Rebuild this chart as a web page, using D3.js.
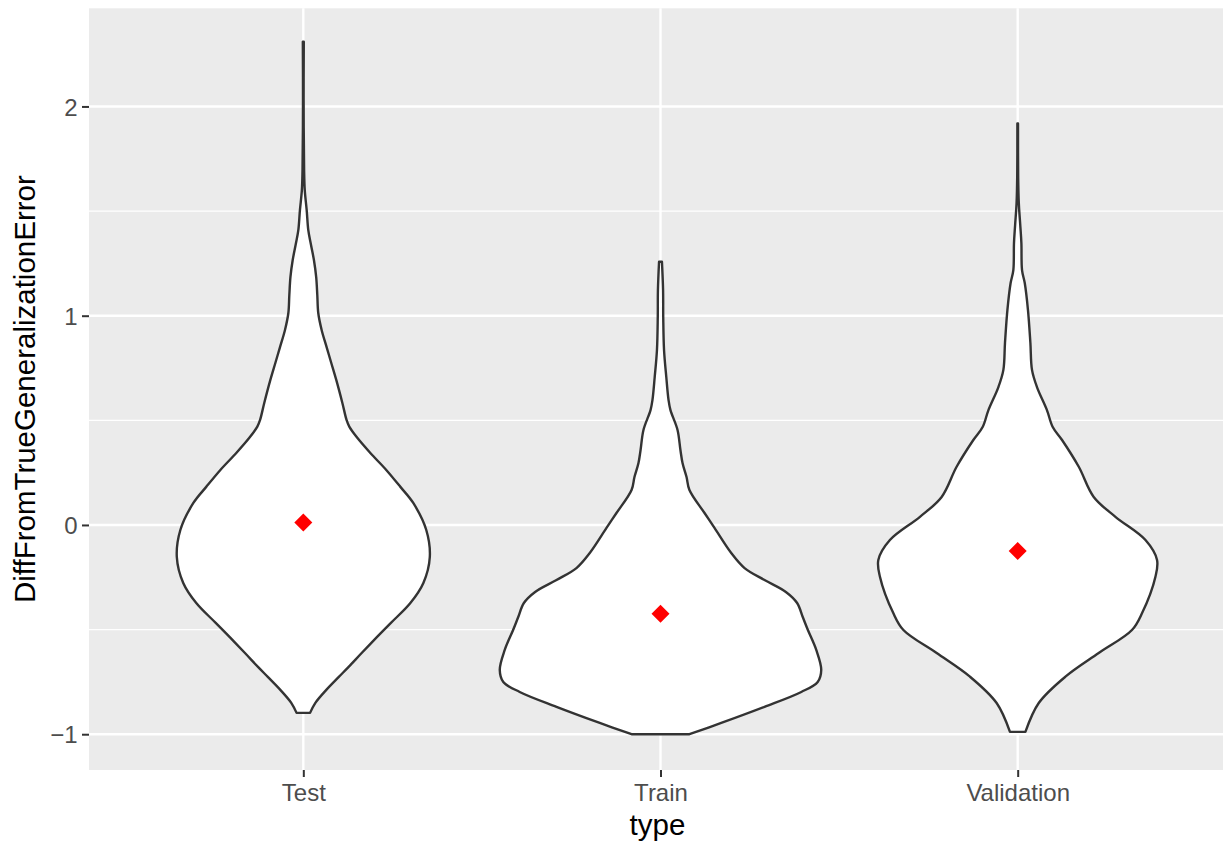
<!DOCTYPE html>
<html>
<head>
<meta charset="utf-8">
<script src="https://cdn.jsdelivr.net/npm/d3@7"></script>
<style>
  html, body { margin: 0; padding: 0; background: #ffffff; }
  svg { display: block; }
  text { font-family: "Liberation Sans", Arial, Helvetica, sans-serif; }
</style>
</head>
<body>
<svg id="chart" width="1223" height="843"></svg>
<script>
// ---------------- data ----------------
const categories = ["Test", "Train", "Validation"];
const yTicks = [-1, 0, 1, 2];
const yMinorTicks = [-0.5, 0.5, 1.5];
const meanValues = [0.012, -0.424, -0.124];
const xTitle = "type";
const yTitle = "DiffFromTrueGeneralizationError";

// violin outlines: value (y) and relative density (1 = widest violin)
const testValues = [2.309, 2.03, 1.696, 1.60, 1.505, 1.409, 1.338, 1.266, 1.185, 1.099, 1.013, 0.932, 0.850, 0.774, 0.693, 0.583, 0.502, 0.470, 0.420, 0.344, 0.263, 0.182, 0.105, -0.024, -0.153, -0.277, -0.373, -0.468, -0.540, -0.612, -0.678, -0.726, -0.788, -0.850, -0.898];
const testDensity = [0.003, 0.002, 0.005, 0.009, 0.021, 0.031, 0.048, 0.066, 0.080, 0.087, 0.093, 0.114, 0.145, 0.174, 0.205, 0.243, 0.269, 0.286, 0.332, 0.417, 0.516, 0.604, 0.684, 0.765, 0.787, 0.747, 0.666, 0.545, 0.453, 0.363, 0.282, 0.221, 0.143, 0.075, 0.042];

const trainValues = [1.258, 1.123, 0.994, 0.836, 0.707, 0.597, 0.549, 0.454, 0.358, 0.296, 0.229, 0.167, 0.057, -0.014, -0.134, -0.206, -0.263, -0.320, -0.373, -0.440, -0.502, -0.597, -0.693, -0.750, -0.798, -0.869, -0.946, -1.0];
const trainDensity = [0.009, 0.016, 0.017, 0.022, 0.036, 0.050, 0.062, 0.106, 0.124, 0.137, 0.162, 0.180, 0.274, 0.336, 0.440, 0.523, 0.647, 0.780, 0.850, 0.885, 0.917, 0.969, 1.000, 0.978, 0.876, 0.647, 0.378, 0.180];

const validationValues = [1.919, 1.663, 1.538, 1.433, 1.347, 1.218, 1.156, 1.027, 0.870, 0.741, 0.659, 0.549, 0.468, 0.406, 0.278, 0.134, 0.039, -0.072, -0.167, -0.247, -0.421, -0.502, -0.612, -0.725, -0.851, -0.989];
const validationDensity = [0.002, 0.003, 0.007, 0.016, 0.023, 0.027, 0.044, 0.064, 0.079, 0.089, 0.120, 0.182, 0.218, 0.276, 0.380, 0.473, 0.608, 0.795, 0.867, 0.857, 0.774, 0.711, 0.504, 0.297, 0.131, 0.048];

const violinValues = [testValues, trainValues, validationValues];
const violinDensity = [testDensity, trainDensity, validationDensity];

// ---------------- layout ----------------
const panel = { left: 89, right: 1232, top: 8.3, bottom: 770 };

const svg = d3.select("#chart");

const x = d3.scalePoint()
  .domain(categories)
  .range([panel.left, panel.right])
  .padding(0.6);

const y = d3.scaleLinear()
  .domain([-1.171, 2.469])
  .range([panel.bottom, panel.top]);

const step = x.step();
const halfW = d3.scaleLinear().domain([0, 1]).range([0, 0.45 * step]);

// panel background
svg.append("rect")
  .attr("x", panel.left).attr("y", panel.top)
  .attr("width", panel.right - panel.left)
  .attr("height", panel.bottom - panel.top)
  .attr("fill", "#EBEBEB");

// minor gridlines
svg.append("g").selectAll("line")
  .data(yMinorTicks).join("line")
  .attr("x1", panel.left).attr("x2", panel.right)
  .attr("y1", d => y(d)).attr("y2", d => y(d))
  .attr("stroke", "#ffffff").attr("stroke-width", 1.2);

// major gridlines
svg.append("g").selectAll("line")
  .data(yTicks).join("line")
  .attr("x1", panel.left).attr("x2", panel.right)
  .attr("y1", d => y(d)).attr("y2", d => y(d))
  .attr("stroke", "#ffffff").attr("stroke-width", 2.4);

svg.append("g").selectAll("line")
  .data(categories).join("line")
  .attr("x1", d => x(d)).attr("x2", d => x(d))
  .attr("y1", panel.top).attr("y2", panel.bottom)
  .attr("stroke", "#ffffff").attr("stroke-width", 2.4);

// violins
const area = d3.area()
  .curve(d3.curveCatmullRom.alpha(0.5))
  .y(d => y(d.v));

categories.forEach((cat, i) => {
  const cx = x(cat);
  const pts = violinValues[i].map((v, j) => ({ v, d: violinDensity[i][j] }));
  svg.append("path")
    .datum(pts)
    .attr("d", area.x0(d => cx - halfW(d.d)).x1(d => cx + halfW(d.d)))
    .attr("fill", "#ffffff")
    .attr("stroke", "#333333")
    .attr("stroke-width", 2.4)
    .attr("stroke-linejoin", "round");
});

// mean markers (filled diamonds)
const diamond = d3.symbol().type(d3.symbolSquare).size(162);
svg.append("g").selectAll("path")
  .data(categories).join("path")
  .attr("d", diamond)
  .attr("transform", (d, i) => `translate(${x(d)},${y(meanValues[i])}) rotate(45)`)
  .attr("fill", "#FF0000");

// axes
const yAxis = d3.axisLeft(y).tickValues(yTicks).tickSize(7).tickPadding(4.5)
  .tickFormat(d => d < 0 ? "\u2212" + Math.abs(d) : String(d));
const gy = svg.append("g").attr("transform", `translate(${panel.left},0)`).call(yAxis);
gy.select(".domain").remove();
gy.selectAll(".tick line").attr("stroke", "#333333").attr("stroke-width", 2);
gy.selectAll(".tick text")
  .attr("fill", "#4D4D4D").attr("font-size", 24).attr("dy", "0.36em")
  .attr("font-family", "'Liberation Sans', Arial, sans-serif");

const xAxis = d3.axisBottom(x).tickSize(7).tickPadding(5);
const gx = svg.append("g").attr("transform", `translate(0,${panel.bottom})`).call(xAxis);
gx.select(".domain").remove();
gx.selectAll(".tick line").attr("stroke", "#333333").attr("stroke-width", 2);
gx.selectAll(".tick text")
  .attr("fill", "#4D4D4D").attr("font-size", 24).attr("dy", null)
  .attr("y", 30.5)
  .attr("font-family", "'Liberation Sans', Arial, sans-serif");

// axis titles
svg.append("text")
  .attr("x", (panel.left + panel.right) / 2 - 3)
  .attr("y", 835)
  .attr("text-anchor", "middle")
  .attr("font-size", 29.5)
  .attr("fill", "#000000")
  .text(xTitle);

svg.append("text")
  .attr("transform", `translate(35,${(panel.top + panel.bottom) / 2}) rotate(-90)`)
  .attr("text-anchor", "middle")
  .attr("font-size", 29.5)
  .attr("fill", "#000000")
  .text(yTitle);
</script>
</body>
</html>
